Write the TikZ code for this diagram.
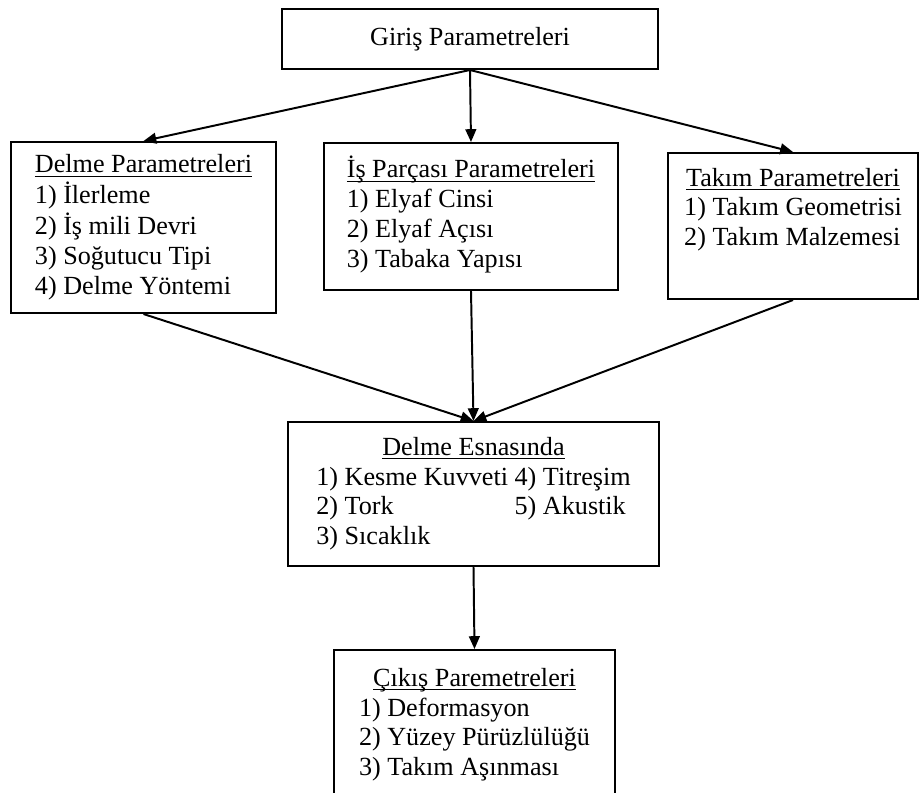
\documentclass[tikz,border=0pt]{standalone}
\usepackage{fontspec}
\setmainfont{Liberation Serif}
\usetikzlibrary{arrows.meta}
\newsavebox{\titlebox}
\newcommand{\titleline}[1]{\sbox{\titlebox}{#1}\rlap{\rule[-2.8pt]{\wd\titlebox}{0.9pt}}\usebox{\titlebox}}
\newcommand{\boxfont}{\fontsize{18.6pt}{21.3pt}\selectfont}

\begin{document}
\begin{tikzpicture}[x=0.025cm,y=-0.025cm,
		every node/.style={draw,line width=1.4pt,font=\boxfont,inner sep=0pt},
		arr/.style={line width=1.4pt,-{Triangle[length=0.32cm,width=0.27cm]}}]
	\useasboundingbox (0,0) rectangle (922,792);

	\node[minimum width=9.4cm,minimum height=1.5cm] (giris) at (470,39) {Giriş Parametreleri};

	\node[minimum width=6.625cm,minimum height=4.275cm] (delmep) at (143.5,227.5) {%
		\begin{tabular}{@{}l@{}}
			\multicolumn{1}{@{}c@{}}{\titleline{Delme Parametreleri}}\\
			1) İlerleme\\
			2) İş mili Devri\\
			3) Soğutucu Tipi\\
			4) Delme Yöntemi
		\end{tabular}};
	\node[minimum width=7.35cm,minimum height=3.675cm] (isp) at (471,216.5) {%
		\begin{tabular}{@{}l@{}}
			\multicolumn{1}{@{}c@{}}{\titleline{İş Parçası Parametreleri}}\\
			1) Elyaf Cinsi\\
			2) Elyaf Açısı\\
			3) Tabaka Yapısı
		\end{tabular}};
	\node[minimum width=6.25cm,minimum height=3.65cm] (takim) at (793,226) {%
		\begin{tabular}{@{}l@{}}
			\multicolumn{1}{@{}c@{}}{\titleline{Takım Parametreleri}}\\
			1) Takım Geometrisi\\
			2) Takım Malzemesi\\[0.8cm]
		\end{tabular}};

	\node[minimum width=9.275cm,minimum height=3.6cm] (esnasinda) at (473.5,494) {%
		\begin{tabular}{@{}l@{\ }l@{}}
			\multicolumn{2}{@{}c@{}}{\titleline{Delme Esnasında}}\\
			1) Kesme Kuvveti & 4) Titreşim\\
			2) Tork & 5) Akustik\\
			3) Sıcaklık &
		\end{tabular}};

	\node[minimum width=7.025cm,minimum height=3.75cm] (cikis) at (474.5,725) {%
		\begin{tabular}{@{}l@{}}
			\multicolumn{1}{@{}c@{}}{\titleline{Çıkış Paremetreleri}}\\
			1) Deformasyon\\
			2) Yüzey Pürüzlülüğü\\
			3) Takım Aşınması
		\end{tabular}};

	\foreach \nm in {delmep,isp,takim} {
			\draw[arr] (giris.south) -- (\nm.north);
			\draw[arr] (\nm.south) -- (esnasinda.north);
		}
	\draw[arr] (esnasinda.south) -- (cikis.north);
\end{tikzpicture}
\end{document}
